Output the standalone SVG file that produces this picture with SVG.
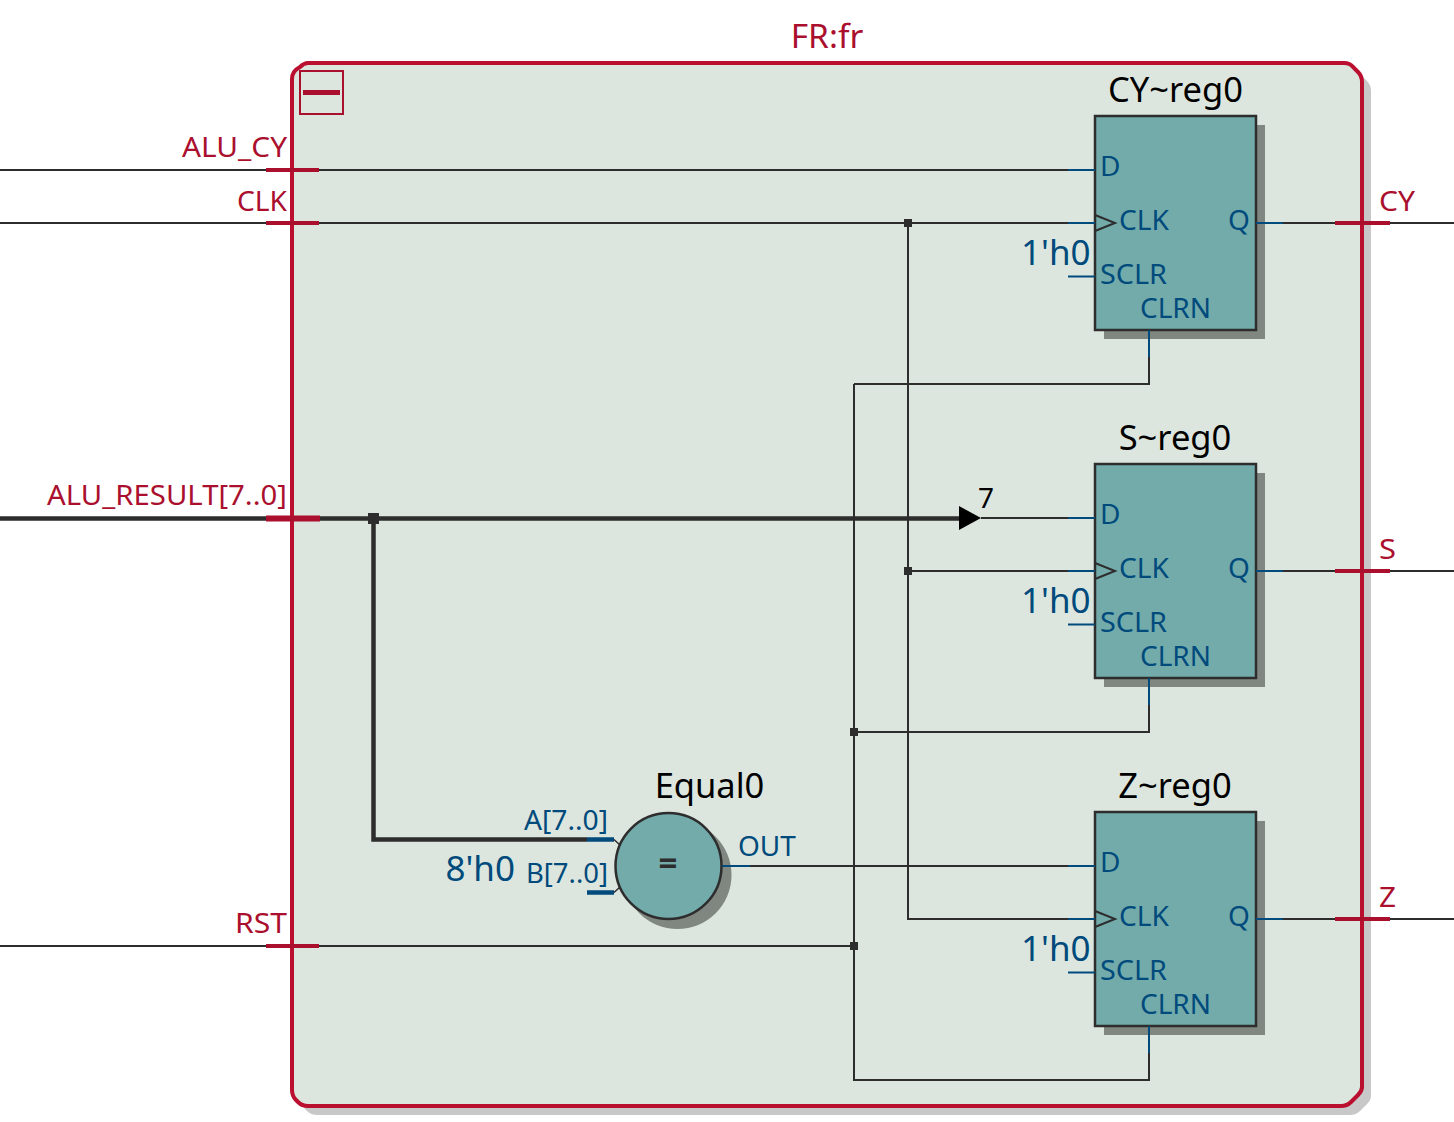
<svg xmlns="http://www.w3.org/2000/svg" width="1454" height="1122" viewBox="0 0 1454 1122">
<defs>
<style>
text{font-family:"Noto Sans","Open Sans","Liberation Sans",sans-serif}
.w{fill:none;stroke:#2d2d2d;stroke-width:2}
.b{fill:none;stroke:#2d2d2d;stroke-width:4.500}
.p{fill:none;stroke:#004a7c;stroke-width:2}
.pb{fill:none;stroke:#004a7c;stroke-width:4.500}
.r{fill:none;stroke:#ab0f2e;stroke-width:4}
.rb{fill:none;stroke:#ab0f2e;stroke-width:6}
.red{fill:#ab0f2e;font-size:28px}
.blue{fill:#004a7c;font-size:28px}
.big{fill:#004a7c;font-size:35px}
.name{fill:#000;font-size:34.500px;text-anchor:middle}
.box{fill:#73abab;stroke:#2d2d2d;stroke-width:2.500}
.sh{fill:#808780}
.dot{fill:#2d2d2d}
</style>
<g id="ff">
<rect class="sh" x="9" y="9" width="161" height="214"/>
<rect class="box" x="0" y="0" width="161" height="214"/>
<path class="w" d="M0 99L20 107L0 115"/>
<path class="p" d="M-27 54H0M-27 107H0M-27 160.500H0M54 214V241M161 107H188"/>
<text class="blue" x="5" y="60">D</text>
<text class="blue" x="24" y="114" textLength="50" lengthAdjust="spacingAndGlyphs">CLK</text>
<text class="blue" x="5" y="168" textLength="67" lengthAdjust="spacingAndGlyphs">SCLR</text>
<text class="blue" x="45" y="202" textLength="71" lengthAdjust="spacingAndGlyphs">CLRN</text>
<text class="blue" x="133" y="114">Q</text>
<text class="big" x="-74" y="149">1'h0</text>
</g>
</defs>
<g id="fr">
<path d="M317 72H1353Q1359 72 1362 76L1367 81Q1371 85 1371 91V1096Q1371 1100 1367 1104L1360 1111Q1356 1115 1350 1115H317Q311 1115 307 1111L305 1109Q301 1105 301 1099V88Q301 80 309 76Q313 72 317 72Z" fill="#c8c8c8"/>
<path d="M308 63H1344Q1350 63 1353 67L1358 72Q1362 76 1362 82V1087Q1362 1091 1358 1095L1351 1102Q1347 1106 1341 1106H308Q302 1106 298 1102L296 1100Q292 1096 292 1090V79Q292 71 300 67Q304 63 308 63Z" fill="#dde6de" stroke="#ba0f2e" stroke-width="4"/>
<rect x="300" y="71" width="43" height="43" fill="none" stroke="#ab0f2e" stroke-width="2"/>
<rect x="303" y="90" width="37" height="5" fill="#ab0f2e"/>
<text class="red" x="827" y="48" text-anchor="middle" style="font-size:33.500px">FR:fr</text>
</g>
<g id="connectors">
<path class="w" d="M0 170H1068M0 223H1068M908 223V919H1068M908 571H1068M981 518H1068M0 946H854M854 384V1080H1149V1053M854 384H1149V357M854 732H1149V705M750 866H1068M1283 223H1454M1283 571H1454M1283 919H1454"/>
<path class="b" d="M0 518.500H960M373.500 518.500V839.500H587"/>
<path d="M959 506L981 518L959 530Z" fill="#000"/>
<rect class="dot" x="904" y="219" width="8" height="8"/>
<rect class="dot" x="904" y="567" width="8" height="8"/>
<rect class="dot" x="850" y="728" width="8" height="8"/>
<rect class="dot" x="850" y="942" width="8" height="8"/>
<rect class="dot" x="368" y="513" width="11" height="11"/>
</g>
<g id="port-ALU_CY"><path class="r" d="M266 170H319"/><text class="red" x="182" y="157" textLength="105" lengthAdjust="spacingAndGlyphs">ALU_CY</text></g>
<g id="port-CLK"><path class="r" d="M266 223H319"/><text class="red" x="237" y="211" textLength="50" lengthAdjust="spacingAndGlyphs">CLK</text></g>
<g id="port-ALU_RESULT"><path class="rb" d="M266 518.500H320"/><text class="red" x="47" y="505" textLength="240" lengthAdjust="spacingAndGlyphs">ALU_RESULT[7..0]</text></g>
<g id="port-RST"><path class="r" d="M266 946H319"/><text class="red" x="235" y="933" textLength="52" lengthAdjust="spacingAndGlyphs">RST</text></g>
<g id="port-CY"><path class="r" d="M1335 223H1390"/><text class="red" x="1379" y="211" textLength="36" lengthAdjust="spacingAndGlyphs">CY</text></g>
<g id="port-S"><path class="r" d="M1335 571H1390"/><text class="red" x="1379" y="559" textLength="17" lengthAdjust="spacingAndGlyphs">S</text></g>
<g id="port-Z"><path class="r" d="M1335 919H1390"/><text class="red" x="1379" y="907" textLength="17" lengthAdjust="spacingAndGlyphs">Z</text></g>
<g id="CY-reg0"><use href="#ff" x="1095" y="116"/><text class="name" x="1175.500" y="102">CY~reg0</text></g>
<g id="S-reg0"><use href="#ff" x="1095" y="464"/><text class="name" x="1175" y="450">S~reg0</text></g>
<g id="Z-reg0"><use href="#ff" x="1095" y="812"/><text class="name" x="1175" y="798">Z~reg0</text></g>
<text x="986" y="508" text-anchor="middle" style="fill:#000;font-size:28px">7</text>
<g id="Equal0">
<circle class="sh" cx="677.500" cy="875" r="54"/>
<path class="pb" d="M587 839.500H614M587 892.500H614"/>
<path class="w" d="M614 839.500L620 845M614 892.500L620 887" style="stroke-width:1.500"/>
<circle class="box" cx="668.500" cy="866" r="53"/>
<path class="p" d="M722 866H750"/>
<text x="668" y="875" text-anchor="middle" style="fill:#2d2d2d;font-size:33px;font-weight:700">=</text>
<text class="name" x="709.500" y="798">Equal0</text>
<text class="blue" x="608" y="830" text-anchor="end" textLength="84" lengthAdjust="spacingAndGlyphs">A[7..0]</text>
<text class="blue" x="608" y="883" text-anchor="end" textLength="82" lengthAdjust="spacingAndGlyphs">B[7..0]</text>
<text class="blue" x="738" y="856">OUT</text>
<text class="big" x="515" y="881" text-anchor="end">8'h0</text>
</g>
</svg>
